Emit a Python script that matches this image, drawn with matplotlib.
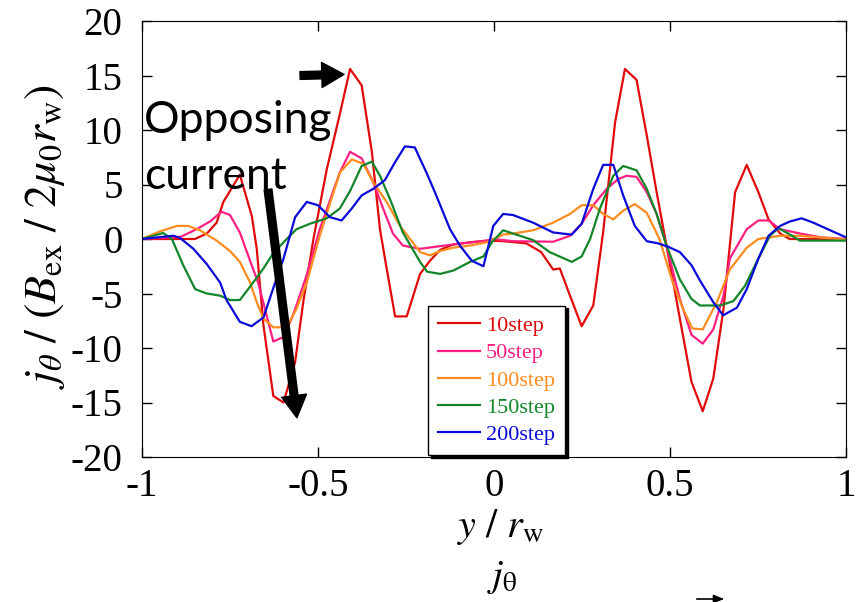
import numpy as np
import matplotlib.pyplot as plt

plt.rcParams['mathtext.fontset'] = 'stix'
plt.rcParams['axes.unicode_minus'] = False

# data
x10 = [-1.0, -0.85, -0.816, -0.788, -0.769, -0.75, -0.722, -0.688, -0.674, -0.655, -0.627, -0.598,
       -0.565, -0.542, -0.513, -0.475, -0.437, -0.409, -0.376, -0.347, -0.324, -0.305, -0.281,
       -0.248, -0.21, -0.182, -0.153, -0.116, -0.068, -0.02, 0.026, 0.092, 0.134, 0.168, 0.187,
       0.216, 0.249, 0.282, 0.31, 0.344, 0.372, 0.405, 0.434, 0.462, 0.49, 0.528, 0.561, 0.593,
       0.623, 0.652, 0.685, 0.718, 0.751, 0.78, 0.813, 0.84, 1.0]
j10 = [0, 0, 0.5, 1.5, 3.4, 4.4, 5.9, 2.1, -0.9, -7.9, -14.4, -15.0,
       -11.3, -5.8, 0, 6.4, 11.6, 15.6, 14.1, 8.0, 0.9, -2.7, -7.1,
       -7.1, -3.2, -2.0, -1.0, -0.5, -0.3, -0.15, -0.2, -0.4, -1.2, -2.8, -2.7,
       -5.2, -8.0, -6.1, 0.6, 10.7, 15.6, 14.6, 9.5, 4.3, -0.6, -7.3, -13.1, -15.8,
       -12.8, -6.4, 4.3, 6.8, 4.3, 1.8, 0.5, 0, 0]

x50 = [-1.0, -0.89, -0.845, -0.807, -0.774, -0.75, -0.722, -0.693, -0.67, -0.627, -0.598, -0.571,
       -0.533, -0.495, -0.438, -0.409, -0.376, -0.343, -0.315, -0.287, -0.259, -0.21, -0.116,
       -0.02, 0.0, 0.054, 0.168, 0.216, 0.249, 0.282, 0.32, 0.353, 0.377, 0.405, 0.434, 0.462,
       0.49, 0.528, 0.561, 0.593, 0.623, 0.652, 0.67, 0.718, 0.751, 0.78, 0.813, 0.87, 0.93, 1.0]
j50 = [0, 0.2, 0.9, 1.6, 2.5, 2.2, 0.6, -2.0, -4.0, -9.4, -9.0, -7.0,
       -3.4, 0.9, 6.1, 8.0, 7.4, 5.2, 2.8, 0.5, -0.6, -0.9, -0.5,
       -0.15, 0, -0.2, -0.25, 0.3, 1.4, 3.1, 4.6, 5.5, 5.8, 5.7, 4.3, 2.3,
       -0.6, -5.5, -8.8, -9.6, -8.3, -5.2, -1.8, 0.9, 1.7, 1.7, 0.9, 0.5, 0.15, 0]

x100 = [-1.0, -0.949, -0.9, -0.869, -0.835, -0.788, -0.75, -0.722, -0.693, -0.674, -0.655, -0.627,
        -0.589, -0.561, -0.532, -0.495, -0.438, -0.404, -0.371, -0.343, -0.305, -0.267, -0.21,
        -0.182, -0.153, -0.116, -0.068, -0.02, 0.026, 0.054, 0.111, 0.168, 0.216, 0.249, 0.282,
        0.31, 0.339, 0.367, 0.4, 0.434, 0.47, 0.508, 0.537, 0.563, 0.593, 0.633, 0.67, 0.718,
        0.751, 0.813, 0.87, 0.98, 1.0]
j100 = [0, 0.7, 1.2, 1.2, 0.8, -0.15, -1.1, -2.1, -4.0, -5.8, -7.3, -8.1,
        -8.1, -6.4, -4.0, 0.3, 6.1, 7.3, 6.9, 5.2, 3.4, 1.2, -1.2,
        -1.5, -1.1, -0.8, -0.6, -0.3, 0.4, 0.5, 0.8, 1.5, 2.3, 3.1, 3.1,
        2.3, 1.8, 2.6, 3.2, 2.4, 0, -4.0, -6.4, -8.2, -8.3, -5.8, -2.8, -0.8,
        0, 0.3, 0.3, 0, 0]

x150 = [-1.0, -0.94, -0.915, -0.883, -0.849, -0.816, -0.778, -0.75, -0.722, -0.689, -0.655, -0.627,
        -0.589, -0.561, -0.523, -0.475, -0.438, -0.409, -0.376, -0.347, -0.324, -0.296, -0.259,
        -0.21, -0.19, -0.153, -0.116, -0.068, -0.03, -0.006, 0.026, 0.054, 0.111, 0.158, 0.221,
        0.249, 0.273, 0.301, 0.339, 0.367, 0.405, 0.434, 0.462, 0.49, 0.528, 0.561, 0.585, 0.642,
        0.68, 0.713, 0.751, 0.784, 0.808, 0.836, 0.869, 1.0]
j150 = [0, 0.55, 0, -2.4, -4.6, -5.0, -5.2, -5.6, -5.6, -4.2, -2.7, -1.3,
        0, 0.9, 1.4, 1.9, 2.8, 4.4, 6.7, 7.1, 5.8, 3.7, 0.6,
        -2.1, -3.0, -3.2, -2.9, -2.1, -1.6, -0.3, 0.8, 0.5, -0.1, -1.2, -2.1,
        -1.6, 0, 2.8, 5.8, 6.7, 6.3, 4.6, 2.3, -0.6, -3.7, -5.5, -6.1, -6.1,
        -5.7, -4.3, -1.8, 0.3, 1.0, 0.5, -0.15, -0.15]

x200 = [-1.0, -0.911, -0.892, -0.854, -0.816, -0.778, -0.76, -0.722, -0.689, -0.655, -0.627, -0.598,
        -0.565, -0.532, -0.5, -0.466, -0.433, -0.404, -0.376, -0.343, -0.31, -0.282, -0.253,
        -0.225, -0.192, -0.168, -0.125, -0.097, -0.063, -0.03, -0.002, 0.026, 0.054, 0.111, 0.168,
        0.221, 0.249, 0.282, 0.31, 0.339, 0.367, 0.4, 0.434, 0.466, 0.494, 0.528, 0.561, 0.585,
        0.623, 0.651, 0.69, 0.718, 0.751, 0.78, 0.813, 0.84, 0.874, 0.907, 0.955, 1.0]
j200 = [0, 0.3, 0.1, -0.9, -2.3, -4.0, -5.6, -7.6, -8.0, -7.2, -4.5, -1.8,
        2.0, 3.4, 3.1, 2.0, 1.7, 2.8, 4.0, 4.6, 5.4, 7.0, 8.5,
        8.4, 6.1, 4.3, 0.9, -0.6, -2.0, -2.5, 1.2, 2.3, 2.2, 1.5, 0.6,
        0.4, 1.4, 4.6, 6.8, 6.8, 4.0, 1.2, -0.2, -0.4, -0.7, -1.2, -2.4, -3.8,
        -5.8, -7.0, -6.3, -4.6, -1.8, 0.3, 1.2, 1.6, 1.9, 1.5, 0.8, 0.15]

labels = ['10step', '50step', '100step', '150step', '200step']
colors = ['#e10a0a', '#ff1f82', '#ff8c1e', '#13862a', '#0a0ad8']

fig = plt.figure(figsize=(8.62, 6.02), dpi=100)
ax = fig.add_axes([142/862, 1-457/602, 704/862, 436/602])

for xs, js, lab, c in zip([x10, x50, x100, x150, x200], [j10, j50, j100, j150, j200], labels, colors):
    ax.plot(xs, js, color=c, lw=1.6, label=lab)

ax.set_xlim(-1, 1)
ax.set_ylim(-20, 20)
ax.set_xticks([-1, -0.5, 0, 0.5, 1])
ax.set_xticklabels(['-1', '-0.5', '0', '0.5', '1'])
ax.set_yticks(np.arange(-20, 21, 5))
ax.tick_params(direction='in', length=7, width=1, top=True, right=True, labelsize=28)
ax.tick_params(axis='x', pad=8)
ax.tick_params(axis='y', pad=14)
for t in ax.get_xticklabels() + ax.get_yticklabels():
    t.set_family('Liberation Serif')

leg = ax.legend(loc='lower left', bbox_to_anchor=(428/862, 1-455/602), bbox_transform=fig.transFigure,
                borderaxespad=0, prop={'family': 'Liberation Serif', 'size': 16}, labelcolor='linecolor',
                fancybox=False, edgecolor='black', framealpha=1, shadow={'color': 'black', 'alpha': 1},
                handlelength=1.9, handletextpad=0.25, labelspacing=0.3, borderpad=0.45)
leg.get_frame().set_linewidth(1)

# axis labels
fig.text(45/862, 1-237/602, r'$j_\theta\ /\ (B_{\rm ex}\ /\ 2\mu_0 r_{\rm w})$', rotation=90,
         ha='center', va='center', fontsize=33)
fig.text(500/862, 1-537/602, r'$y\ /\ r_{\rm w}$', ha='center', va='baseline', fontsize=29)
fig.text(502/862, 1-586/602, r'$j_{\rm \theta}$', ha='center', va='baseline', fontsize=28)

# annotations
ax.text(-0.995, 4.6, 'Opposing\ncurrent', fontsize=32, family='Lato', ha='left', va='baseline',
        linespacing=1.45)
arrow = dict(arrowstyle='simple,head_width=0.9,head_length=0.8,tail_width=0.28',
             color='black', shrinkA=0, shrinkB=0, mutation_scale=20)
ax.annotate('', xy=(-0.426, 15.1), xytext=(-0.551, 15.0), arrowprops=arrow)
ax.annotate('', xy=(-0.56, -16.4), xytext=(-0.642, 4.55), arrowprops=arrow)
# small vector arrow cut at the bottom edge
fig.add_artist(plt.Line2D([697/862, 722/862], [1-599/602, 1-599/602], color='black', lw=1.2))
ax.annotate('', xy=(724/862, 1-599/602), xytext=(714/862, 1-599/602), xycoords='figure fraction',
            textcoords='figure fraction',
            arrowprops=dict(arrowstyle='-|>,head_width=0.25,head_length=0.6', color='black', lw=1.2,
                            shrinkA=0, shrinkB=0))

fig.savefig('out.png', dpi=100)
